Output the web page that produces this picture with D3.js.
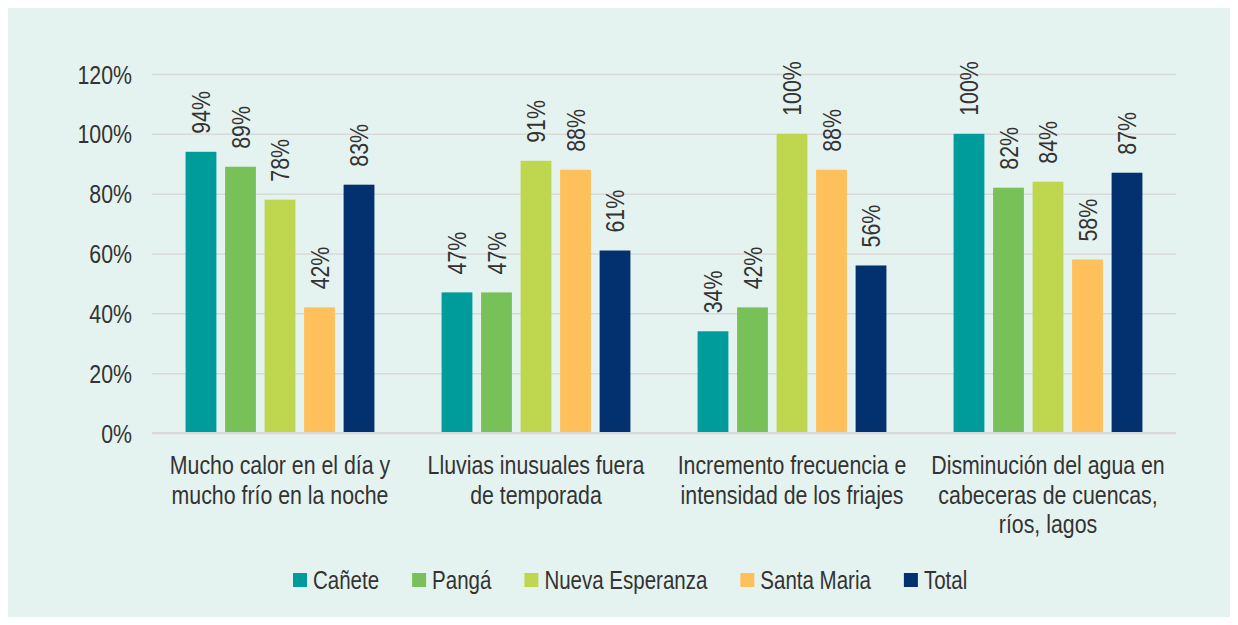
<!DOCTYPE html>
<html>
<head>
<meta charset="utf-8">
<script src="https://cdn.jsdelivr.net/npm/d3@7"></script>
<style>
  html, body { margin: 0; padding: 0; background: #ffffff; }
  svg { display: block; }
  text { font-family: 'Liberation Sans', Arial, sans-serif; fill: #333333; }
</style>
</head>
<body>
<svg id="chart" width="1238" height="625"></svg>
<script>
const categories = [
  ["Mucho calor en el día y", "mucho frío en la noche"],
  ["Lluvias inusuales fuera", "de temporada"],
  ["Incremento frecuencia e", "intensidad de los friajes"],
  ["Disminución del agua en", "cabeceras de cuencas,", "ríos, lagos"]
];
const seriesNames = ["Cañete", "Pangá", "Nueva Esperanza", "Santa Maria", "Total"];
const seriesColors = ["#009b9b", "#78c159", "#bed74e", "#fec05a", "#03306f"];
const canete = [0.94, 0.47, 0.34, 1.00];
const panga = [0.89, 0.47, 0.42, 0.82];
const nuevaEsperanza = [0.78, 0.91, 1.00, 0.84];
const santaMaria = [0.42, 0.88, 0.88, 0.58];
const total = [0.83, 0.61, 0.56, 0.87];
const yTicks = [0, 0.2, 0.4, 0.6, 0.8, 1.0, 1.2];

const seriesValues = [canete, panga, nuevaEsperanza, santaMaria, total];

const svg = d3.select("#chart");
const FS = 26;
const NARROW = 0.82;

function narrow(sel) {
  let last = 0;
  sel.each(function () {
    const len = this.getComputedTextLength();
    if (len > 0) {
      last = len * NARROW;
      d3.select(this).attr("textLength", last).attr("lengthAdjust", "spacingAndGlyphs");
    }
  });
  return last;
}

svg.append("rect").attr("x", 8).attr("y", 8).attr("width", 1222).attr("height", 609).attr("fill", "#e5f3f0");

const plot = { left: 152, right: 1176, top: 74, bottom: 433 };

const y = d3.scaleLinear().domain([0, 1.2]).range([plot.bottom, plot.top]);
const catIdx = categories.map((d, i) => i);
const x0 = d3.scaleBand().domain(catIdx).range([plot.left, plot.right]).padding(0);
const x1 = d3.scaleBand().domain(seriesNames).range([0, x0.bandwidth()]).paddingInner(0.22).paddingOuter(0.85);

// gridlines
const gridAxis = d3.axisLeft(y).tickValues(yTicks).tickSize(-(plot.right - plot.left)).tickFormat("");
const gg = svg.append("g").attr("transform", `translate(${plot.left},0)`).call(gridAxis);
gg.select(".domain").remove();
gg.selectAll(".tick line").attr("stroke", "#d9d9d9").attr("stroke-width", 1.5);

// tick labels
const labAxis = d3.axisLeft(y).tickValues(yTicks).tickSize(0).tickPadding(20).tickFormat(d3.format(".0%"));
const ga = svg.append("g").attr("transform", `translate(${plot.left},0)`).call(labAxis);
ga.select(".domain").remove();
ga.selectAll(".tick text").attr("font-size", FS).attr("font-family", null).attr("fill", "#333333").attr("dy", "0.35em");
narrow(ga.selectAll(".tick text"));

// bars
const groups = svg.append("g").selectAll("g")
  .data(catIdx).join("g")
  .attr("transform", d => `translate(${x0(d)},0)`);

groups.selectAll("rect")
  .data(ci => seriesNames.map((s, si) => ({ s, si, v: seriesValues[si][ci] })))
  .join("rect")
  .attr("x", d => x1(d.s))
  .attr("y", d => y(d.v))
  .attr("width", x1.bandwidth())
  .attr("height", d => y(0) - y(d.v))
  .attr("fill", d => seriesColors[d.si]);

const vals = groups.selectAll("text.val")
  .data(ci => seriesNames.map((s, si) => ({ s, si, v: seriesValues[si][ci] })))
  .join("text")
  .attr("class", "val")
  .attr("transform", d => `translate(${x1(d.s) + x1.bandwidth() / 2},${y(d.v) - 18}) rotate(-90)`)
  .attr("dy", "0.35em")
  .attr("font-size", FS)
  .attr("text-anchor", "start")
  .text(d => d3.format(".0%")(d.v));
narrow(vals);

// x axis baseline
svg.append("line")
  .attr("x1", plot.left).attr("x2", plot.right)
  .attr("y1", y(0)).attr("y2", y(0))
  .attr("stroke", "#d9d9d9").attr("stroke-width", 2);

// category labels
const catG = svg.append("g").selectAll("text")
  .data(catIdx).join("text")
  .attr("x", d => x0(d) + x0.bandwidth() / 2)
  .attr("y", 474)
  .attr("font-size", FS)
  .attr("text-anchor", "middle");
const tsp = catG.selectAll("tspan")
  .data(d => categories[d].map((line, li) => ({ line, li, ci: d })))
  .join("tspan")
  .attr("x", d => x0(d.ci) + x0.bandwidth() / 2)
  .attr("dy", d => d.li === 0 ? 0 : 29.5)
  .text(d => d.line);
narrow(tsp);

// legend
const leg = svg.append("g");
let lx = 293;
const ly = 580;
seriesNames.forEach((name, i) => {
  leg.append("rect").attr("x", lx).attr("y", ly - 7).attr("width", 14).attr("height", 14).attr("fill", seriesColors[i]);
  const t = leg.append("text").attr("x", lx + 20).attr("y", ly).attr("dy", "0.35em").attr("font-size", FS - 1).text(name);
  const w = narrow(t);
  lx += 20 + w + 33;
});
</script>
</body>
</html>
